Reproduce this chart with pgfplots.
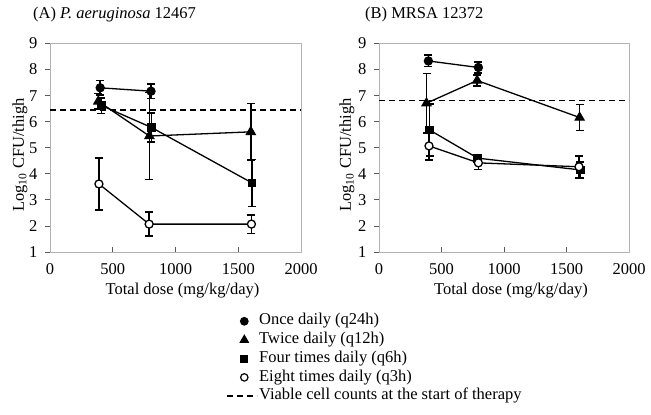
\documentclass[border=0pt]{standalone}
\usepackage{pgfplots}
\pgfplotsset{compat=1.18}
\usepackage{fontspec}
\setmainfont{Liberation Serif}
\pgfplotsset{
  panel/.style={
    scale only axis,
    width=251pt, height=208.5pt,
    xmin=0, xmax=2000, ymin=1, ymax=9,
    xtick={0,500,1000,1500,2000},
    ytick={1,2,...,9},
    xtick pos=bottom, ytick pos=left,
    tick align=outside,
    major tick length=5pt,
    x tick style={yshift=5pt, gray!70!black, line width=0.8pt},
    y tick style={gray!70!black, line width=0.8pt},
    axis line style={gray!60, line width=0.9pt},
    /pgf/number format/assume math mode=true,
    /pgf/number format/set thousands separator={},
    xticklabel style={yshift=-1pt},
    yticklabel style={xshift=-2pt},
    xlabel={Total dose (mg/kg/day)},
    ylabel={Log\textsubscript{10} CFU/thigh},
    xlabel style={at={(axis description cs:0.528,-0.187)}, anchor=center},
    ylabel style={at={(axis description cs:-0.12,0.465)}, anchor=center},
    every axis plot/.append style={black, line width=1.3pt, mark options={solid}},
    error bars/error bar style={line width=1.6pt, black},
    error bars/error mark options={line width=1.6pt, mark size=4pt, rotate=90},
    legend image code/.code={\draw[mark repeat=2,mark phase=2,#1] plot coordinates {(0pt,0pt) (17pt,0pt) (30pt,0pt)};},
  },
  eb/.style={error bars/y dir=both, error bars/y explicit},
}
\begin{document}
\fontsize{16.5}{19.5}\selectfont
\begin{tikzpicture}[font=\fontsize{16.5}{19.5}\selectfont]
\path[use as bounding box] (0pt,0pt) rectangle (651pt,415pt);
% Panel A
\begin{axis}[panel, at={(50pt,163pt)}, anchor=south west,
  title={(A) \textit{P. aeruginosa} 12467},
  title style={at={(axis description cs:-0.068,1.089)}, anchor=base west, inner sep=0pt},
  legend style={at={(axis description cs:0.703,-0.288)}, anchor=north west, draw=none, fill=none,
     inner sep=0pt, row sep=0.6pt, font=\fontsize{16.5}{19.5}\selectfont, legend cell align=left,
     nodes={inner sep=1.2pt, text height=11.5pt, text depth=4.2pt}},
]
\addplot[forget plot, dash pattern=on 6pt off 4pt, line width=1.5pt] coordinates {(0,6.45) (2000,6.45)};
% Once daily
\addplot[forget plot, mark=*, mark size=4pt, eb] coordinates {
 (400,7.30) +- (0,0.28)
 (805,7.17) +- (0,0.28)
};
% Twice daily
\addplot[forget plot, mark=triangle*, mark size=5pt, eb] coordinates {
 (385,6.78) +- (0,0.30)
 (792,5.45) +- (0,1.67)
 (1600,5.61) +- (0,1.09)
};
% Four times daily
\addplot[forget plot, mark=square*, mark size=3.7pt, eb] coordinates {
 (410,6.62) +- (0,0.30)
 (808,5.78) +- (0,0.55)
 (1610,3.65) +- (0,0.90)
};
% Eight times daily
\addplot[forget plot, mark=*, mark size=4pt, mark options={fill=white}, eb] coordinates {
 (390,3.61) +- (0,1.00)
 (790,2.07) +- (0,0.46)
 (1605,2.07) +- (0,0.36)
};
\addlegendimage{only marks, mark=*, mark size=3.7pt, black}
\addlegendentry{Once daily (q24h)}
\addlegendimage{only marks, mark=triangle*, mark size=4.5pt, black}
\addlegendentry{Twice daily (q12h)}
\addlegendimage{only marks, mark=square*, mark size=3.5pt, black}
\addlegendentry{Four times daily (q6h)}
\addlegendimage{only marks, mark=*, mark size=3.7pt, black, mark options={fill=white, line width=1.2pt}}
\addlegendentry{Eight times daily (q3h)}
\addlegendimage{black, line width=1.3pt, dash pattern=on 6pt off 4pt}
\addlegendentry{Viable cell counts at the start of therapy}
\end{axis}
% Panel B
\begin{axis}[panel, width=250pt, at={(379pt,163pt)}, anchor=south west,
  title={(B) MRSA 12372},
  title style={at={(axis description cs:-0.056,1.089)}, anchor=base west, inner sep=0pt},
  ylabel style={at={(axis description cs:-0.128,0.465)}, anchor=center},
]
\addplot[forget plot, dash pattern=on 6pt off 4pt, line width=1.5pt] coordinates {(0,6.81) (2000,6.81)};
% Once daily
\addplot[forget plot, mark=*, mark size=4pt, eb] coordinates {
 (395,8.33) +- (0,0.22)
 (795,8.08) +- (0,0.22)
};
% Twice daily
\addplot[forget plot, mark=triangle*, mark size=5pt, eb] coordinates {
 (380,6.71) +- (0,1.14)
 (785,7.58) +- (0,0.20)
 (1605,6.16) +- (0,0.50)
};
% Four times daily
\addplot[forget plot, mark=square*, mark size=3.7pt, eb] coordinates {
 (405,5.68) +- (0,1.00)
 (790,4.60) +- (0,0.10)
 (1610,4.15) +- (0,0.30)
};
% Eight times daily
\addplot[forget plot, mark=*, mark size=4pt, mark options={fill=white}, eb] coordinates {
 (400,5.07) +- (0,0.54)
 (795,4.42) +- (0,0.25)
 (1600,4.27) +- (0,0.42)
};
\end{axis}
\end{tikzpicture}
\end{document}
